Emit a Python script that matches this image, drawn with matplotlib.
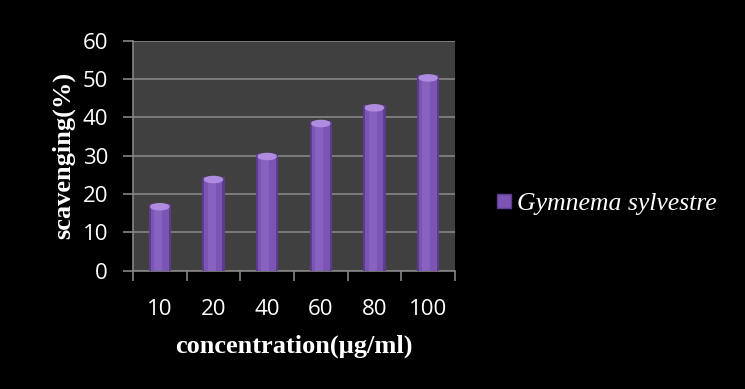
import matplotlib.pyplot as plt
import numpy as np
from matplotlib.patches import Ellipse
from matplotlib.lines import Line2D

# data
concentrations = ['10', '20', '40', '60', '80', '100']
scavenging = [17.4, 24.5, 30.5, 39.1, 43.2, 51.0]
series_name = 'Gymnema sylvestre'

# colours
bg_color = 'black'
plot_color = '#404040'
grid_color = '#858585'
bar_color = '#7c54b4'
bar_light = '#b08ce0'
bar_dark = '#5c3c8c'
text_color = 'white'

fig = plt.figure(figsize=(7.45, 3.89), dpi=100, facecolor=bg_color)
ax = fig.add_axes([0.1785, 0.304, 0.4322, 0.5913])
ax.set_facecolor(plot_color)

x = np.arange(len(concentrations))
width = 0.42

# shaded bars: dark edges, lighter middle, light top cap
ax.bar(x, scavenging, width=width, color=bar_dark, zorder=3)
ax.bar(x, scavenging, width=width * 0.8, color=bar_color, zorder=3)
ax.bar(x - width * 0.08, scavenging, width=width * 0.35, color='#8862bf', zorder=3)
for xi, v in zip(x, scavenging):
    ax.add_patch(Ellipse((xi, v - 0.7), width * 0.8, 1.6, color=bar_light, zorder=4))

ax.set_xlim(-0.5, len(concentrations) - 0.5)
ax.set_ylim(0, 60)
ax.set_yticks(range(0, 61, 10))
ax.yaxis.grid(True, color=grid_color, linewidth=1.2, zorder=1)
ax.set_axisbelow(True)

ax.set_xticks(x)
ax.set_xticklabels(concentrations)
ax.set_xticks(np.arange(-0.5, len(concentrations)), minor=True)
ax.tick_params(axis='x', which='major', length=0, pad=20)
ax.tick_params(axis='x', which='minor', length=7, color=grid_color, width=1.2)
ax.tick_params(axis='y', length=7, color=grid_color, width=1.2, pad=11)
ax.tick_params(labelsize=16, labelcolor=text_color)
for lab in ax.get_xticklabels() + ax.get_yticklabels():
    lab.set_family('Open Sans')

for side in ['top', 'right']:
    ax.spines[side].set_visible(False)
for side in ['left', 'bottom']:
    ax.spines[side].set_color(grid_color)
    ax.spines[side].set_linewidth(1.2)

ax.set_xlabel('concentration(µg/ml)', fontsize=19, fontweight='bold',
              family='Liberation Serif', color=text_color, labelpad=11)
ax.set_ylabel('scavenging(%)', fontsize=19, fontweight='bold',
              family='Liberation Serif', color=text_color, labelpad=5)

# legend
handle = Line2D([], [], marker='s', linestyle='none', markersize=10,
                markerfacecolor=bar_color, markeredgecolor=bar_dark)
leg = fig.legend([handle], [series_name], loc='center left',
                 bbox_to_anchor=(0.628, 0.476), frameon=False,
                 handletextpad=0.0, handlelength=1.0,
                 prop={'family': 'Liberation Serif', 'style': 'italic', 'size': 18.5})
for t in leg.get_texts():
    t.set_color(text_color)

fig.savefig('out.png', dpi=100, facecolor=bg_color)
